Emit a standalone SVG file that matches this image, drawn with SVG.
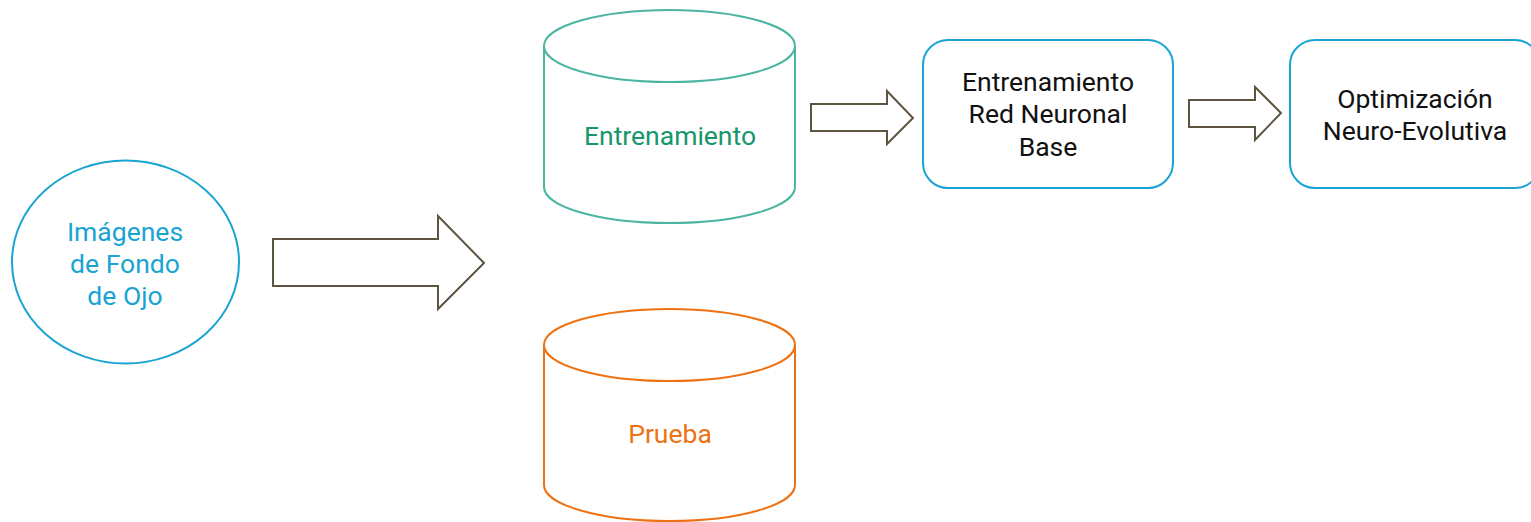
<svg xmlns="http://www.w3.org/2000/svg" width="1531" height="522" viewBox="0 0 1531 522">
  <style>
    text { font-family: Roboto, "Liberation Sans", sans-serif; font-size: 26.5px; text-anchor: middle; }
    .arrow { fill: #ffffff; stroke: #5e5442; stroke-width: 2; stroke-linejoin: miter; }
    .blue { fill: #ffffff; stroke: #1aa4d3; stroke-width: 2; }
    .teal { fill: #ffffff; stroke: #4cb5a2; stroke-width: 2; }
    .orange { fill: #ffffff; stroke: #ee7213; stroke-width: 2; }
  </style>

  <g id="connectors">
    <path class="arrow" d="M273,239 H438 V216 L484,263 L438,309 V286 H273 Z"/>
    <path class="arrow" d="M811,104 H887 V91 L913,118 L887,144 V131 H811 Z"/>
    <path class="arrow" d="M1189,100 H1255 V87 L1281,113 L1255,140 V127 H1189 Z"/>
  </g>

  <g id="imagenes">
    <ellipse class="blue" cx="125.5" cy="262" rx="113.5" ry="101.5"/>
    <text fill="#1aa4d3" x="125" y="241">Imágenes</text>
    <text fill="#1aa4d3" x="125" y="273">de Fondo</text>
    <text fill="#1aa4d3" x="125" y="305">de Ojo</text>
  </g>

  <g id="entrenamiento-db">
    <path class="teal" d="M544,46 V187 A125.5,36 0 0 0 795,187 V46"/>
    <ellipse class="teal" cx="669.5" cy="46" rx="125.5" ry="36"/>
    <text fill="#17966b" x="670" y="145">Entrenamiento</text>
  </g>

  <g id="prueba-db">
    <path class="orange" d="M544,345 V485 A125.5,36 0 0 0 795,485 V345"/>
    <ellipse class="orange" cx="669.5" cy="345" rx="125.5" ry="36"/>
    <text fill="#ee7213" x="670" y="443">Prueba</text>
  </g>

  <g id="red-base">
    <rect class="blue" x="923" y="40" width="250" height="148" rx="25" ry="25"/>
    <text fill="#111111" x="1048" y="91">Entrenamiento</text>
    <text fill="#111111" x="1048" y="123">Red Neuronal</text>
    <text fill="#111111" x="1048" y="156">Base</text>
  </g>

  <g id="neuroevolucion">
    <rect class="blue" x="1290" y="40" width="250" height="148" rx="25" ry="25"/>
    <text fill="#111111" x="1415" y="108">Optimización</text>
    <text fill="#111111" x="1415" y="140">Neuro-Evolutiva</text>
  </g>
</svg>
